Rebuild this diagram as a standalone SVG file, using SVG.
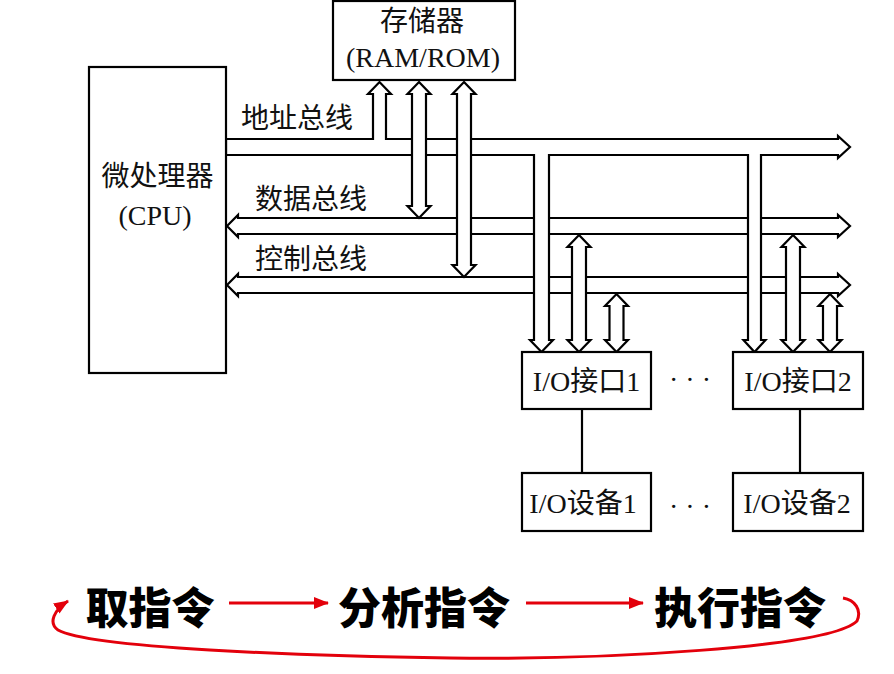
<svg xmlns="http://www.w3.org/2000/svg" width="894" height="674" viewBox="0 0 894 674">
<defs>
<style>
.box{fill:#fff;stroke:#000;stroke-width:2.2}
.bus{fill:#fff;stroke:#000;stroke-width:2.2;stroke-linejoin:miter}
.ln{stroke:#000;stroke-width:2.2;fill:none}
.t{font-family:"Liberation Serif","Noto Sans CJK SC",serif;font-size:28px;fill:#111;dominant-baseline:central}
.m{text-anchor:middle}
.b{font-family:"Noto Sans CJK SC",sans-serif;font-weight:900;font-size:43px;fill:#000;text-anchor:middle;dominant-baseline:central}
.red{stroke:#e3000b;stroke-width:3;fill:none}
</style>
<marker id="ra" markerUnits="userSpaceOnUse" markerWidth="16" markerHeight="14" refX="14" refY="6" orient="auto">
<path d="M0,0 L15,6 L0,12 Z" fill="#e3000b"/>
</marker>
</defs>
<rect width="894" height="674" fill="#fff"/>
<g id="connectors">
<path id="data-bus" class="bus" d="M227,226 L238,215 V218 H838 V215 L850,226 L838,237 V234 H238 V237 Z"/>
<path id="control-bus" class="bus" d="M227,285 L238,274 V277 H838 V274 L850,285 L838,296 V293 H238 V296 Z"/>
<path id="address-bus" class="bus" d="M226,139 H373 V94 H368 L379.5,82 L391,94 H386 V139 H838 V136 L850,147 L838,158 V155 H761 V340 H765.5 L754.5,352 L743.5,340 H748 V155 H549 V340 H553 L541.5,352 L530,340 H534 V155 H226 Z"/>
<path class="bus" d="M419,82 L430.5,94 H426 V206 H430.5 L419,218 L407.5,206 H412 V94 H407.5 Z"/>
<path class="bus" d="M464,82 L475.5,94 H471 V265 H475.5 L464,277 L452.5,265 H457 V94 H452.5 Z"/>
<path class="bus" d="M579,235 L590.5,247 H586 V340 H590.5 L579,352 L567.5,340 H572 V247 H567.5 Z"/>
<path class="bus" d="M616.5,294 L628,306 H623.5 V340 H628 L616.5,352 L605,340 H609.5 V306 H605 Z"/>
<path class="bus" d="M793,235 L804.5,247 H800 V340 H804.5 L793,352 L781.5,340 H786 V247 H781.5 Z"/>
<path class="bus" d="M830,294 L841.5,306 H837 V340 H841.5 L830,352 L818.5,340 H823 V306 H818.5 Z"/>
<line class="ln" x1="582" y1="409" x2="582" y2="473"/>
<line class="ln" x1="800" y1="409" x2="800" y2="473"/>
<line class="red" x1="229" y1="603" x2="328" y2="603" marker-end="url(#ra)"/>
<line class="red" x1="526" y1="603" x2="643" y2="603" marker-end="url(#ra)"/>
<path class="red" d="M843,598 C855,600 862,610 857,621 C830,648 600,660 450,658 C300,656 90,648 58,630 C48,623 54,610 68,601" marker-end="url(#ra)"/>
</g>
<g id="memory">
<rect class="box" x="333" y="1" width="182" height="79"/>
<text class="t m" x="422" y="21">存储器</text>
<text class="t m" x="423" y="57">(RAM/ROM)</text>
</g>
<g id="cpu">
<rect class="box" x="89" y="67" width="137" height="306"/>
<text class="t m" x="157.5" y="176">微处理器</text>
<text class="t m" x="155" y="215">(CPU)</text>
</g>
<g id="labels">
<text class="t" x="241" y="118">地址总线</text>
<text class="t" x="255" y="199">数据总线</text>
<text class="t" x="255" y="259">控制总线</text>
</g>
<g id="io1">
<rect class="box" x="522" y="352" width="129" height="57"/>
<text class="t m" x="586.5" y="381">I/O接口1</text>
</g>
<g id="io2">
<rect class="box" x="733" y="352" width="130" height="57"/>
<text class="t m" x="798" y="381">I/O接口2</text>
</g>
<g id="dev1">
<rect class="box" x="522" y="473" width="129" height="58"/>
<text class="t m" x="583" y="503">I/O设备1</text>
</g>
<g id="dev2">
<rect class="box" x="733" y="473" width="130" height="58"/>
<text class="t m" x="797" y="503">I/O设备2</text>
</g>
<g id="dots">
<text class="t m" x="690" y="379">· · ·</text>
<text class="t m" x="690" y="506">· · ·</text>
</g>
<g id="cycle">
<text class="b" x="150" y="605">取指令</text>
<text class="b" x="424" y="605">分析指令</text>
<text class="b" x="740" y="605">执行指令</text>
</g>
</svg>
